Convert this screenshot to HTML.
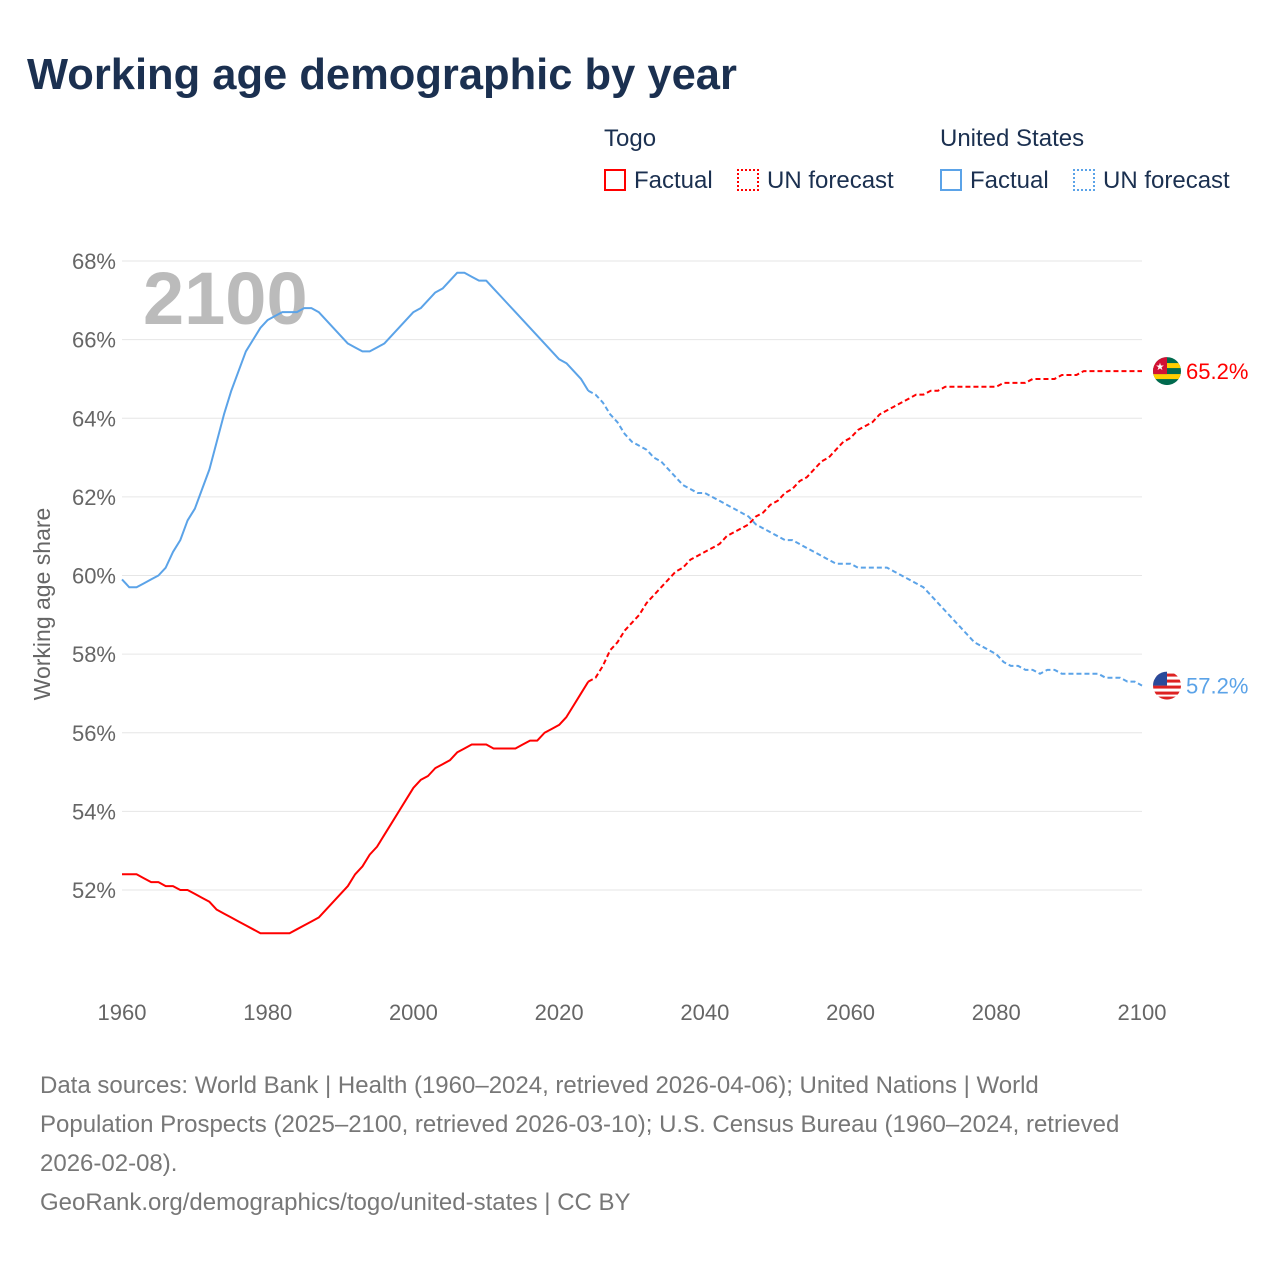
<!DOCTYPE html>
<html><head><meta charset="utf-8">
<style>
body{margin:0;background:#fff;font-family:"Liberation Sans",sans-serif;}
#wrap{position:relative;width:1280px;height:1280px;overflow:hidden;}
.t{position:absolute;white-space:nowrap;}
</style></head>
<body><div id="wrap">
<div class="t" style="left:27px;top:51px;font-size:43.5px;font-weight:bold;color:#1b3050;">Working age demographic by year</div>
<div class="t" style="left:604px;top:125px;font-size:24px;color:#1b3050;">Togo</div>
<div class="t" style="left:940px;top:125px;font-size:24px;color:#1b3050;">United States</div>
<div class="t" style="left:604px;top:167px;font-size:24px;color:#1b3050;"><span style="display:inline-block;width:22px;height:22px;border:2px solid #f00;box-sizing:border-box;vertical-align:-3px;margin-right:8px"></span>Factual</div>
<div class="t" style="left:737px;top:167px;font-size:24px;color:#1b3050;"><span style="display:inline-block;width:22px;height:22px;border:2px dotted #f00;box-sizing:border-box;vertical-align:-3px;margin-right:8px"></span>UN forecast</div>
<div class="t" style="left:940px;top:167px;font-size:24px;color:#1b3050;"><span style="display:inline-block;width:22px;height:22px;border:2px solid #5ba3e8;box-sizing:border-box;vertical-align:-3px;margin-right:8px"></span>Factual</div>
<div class="t" style="left:1073px;top:167px;font-size:24px;color:#1b3050;"><span style="display:inline-block;width:22px;height:22px;border:2px dotted #5ba3e8;box-sizing:border-box;vertical-align:-3px;margin-right:8px"></span>UN forecast</div>
<svg id="chart" width="1280" height="1060" style="position:absolute;left:0;top:0"></svg>
<div class="t" style="left:40px;top:1066px;font-size:24px;line-height:39px;color:#777;white-space:normal;width:1090px;">Data sources: World Bank | Health (1960–2024, retrieved 2026-04-06); United Nations | World Population Prospects (2025–2100, retrieved 2026-03-10); U.S. Census Bureau (1960–2024, retrieved 2026-02-08).<br>GeoRank.org/demographics/togo/united-states | CC BY</div>
</div>
<script>
const yTicks=[52,54,56,58,60,62,64,66,68];
const xTicks=[1960,1980,2000,2020,2040,2060,2080,2100];
const usFactual=[59.9,59.7,59.7,59.8,59.9,60.0,60.2,60.6,60.9,61.4,61.7,62.2,62.7,63.4,64.1,64.7,65.2,65.7,66.0,66.3,66.5,66.6,66.7,66.7,66.7,66.8,66.8,66.7,66.5,66.3,66.1,65.9,65.8,65.7,65.7,65.8,65.9,66.1,66.3,66.5,66.7,66.8,67.0,67.2,67.3,67.5,67.7,67.7,67.6,67.5,67.5,67.3,67.1,66.9,66.7,66.5,66.3,66.1,65.9,65.7,65.5,65.4,65.2,65.0,64.7];
const usForecast=[64.6,64.4,64.1,63.9,63.6,63.4,63.3,63.2,63.0,62.9,62.7,62.5,62.3,62.2,62.1,62.1,62.0,61.9,61.8,61.7,61.6,61.5,61.3,61.2,61.1,61.0,60.9,60.9,60.8,60.7,60.6,60.5,60.4,60.3,60.3,60.3,60.2,60.2,60.2,60.2,60.2,60.1,60.0,59.9,59.8,59.7,59.5,59.3,59.1,58.9,58.7,58.5,58.3,58.2,58.1,58.0,57.8,57.7,57.7,57.6,57.6,57.5,57.6,57.6,57.5,57.5,57.5,57.5,57.5,57.5,57.4,57.4,57.4,57.3,57.3,57.2];
const togoFactual=[52.4,52.4,52.4,52.3,52.2,52.2,52.1,52.1,52.0,52.0,51.9,51.8,51.7,51.5,51.4,51.3,51.2,51.1,51.0,50.9,50.9,50.9,50.9,50.9,51.0,51.1,51.2,51.3,51.5,51.7,51.9,52.1,52.4,52.6,52.9,53.1,53.4,53.7,54.0,54.3,54.6,54.8,54.9,55.1,55.2,55.3,55.5,55.6,55.7,55.7,55.7,55.6,55.6,55.6,55.6,55.7,55.8,55.8,56.0,56.1,56.2,56.4,56.7,57.0,57.3];
const togoForecast=[57.4,57.7,58.1,58.3,58.6,58.8,59.0,59.3,59.5,59.7,59.9,60.1,60.2,60.4,60.5,60.6,60.7,60.8,61.0,61.1,61.2,61.3,61.5,61.6,61.8,61.9,62.1,62.2,62.4,62.5,62.7,62.9,63.0,63.2,63.4,63.5,63.7,63.8,63.9,64.1,64.2,64.3,64.4,64.5,64.6,64.6,64.7,64.7,64.8,64.8,64.8,64.8,64.8,64.8,64.8,64.8,64.9,64.9,64.9,64.9,65.0,65.0,65.0,65.0,65.1,65.1,65.1,65.2,65.2,65.2,65.2,65.2,65.2,65.2,65.2,65.2];
const X=y=>122+(y-1960)*(1020/140);
const Y=v=>890-(v-52)*(629/16);
const svg=document.getElementById('chart');
const NS='http://www.w3.org/2000/svg';
function mk(tag,attrs){const e=document.createElementNS(NS,tag);for(const k in attrs)e.setAttribute(k,attrs[k]);svg.appendChild(e);return e;}
yTicks.forEach(v=>{
 const l=mk('line',{x1:122,x2:1142,y1:Y(v),y2:Y(v),stroke:'#e6e6e6','stroke-width':1});
 
 
 const t=mk('text',{x:116,y:Y(v)+8,'text-anchor':'end','font-size':22,fill:'#666','font-family':'Liberation Sans, sans-serif'});
 t.textContent=v+'%';
 
 
});
xTicks.forEach(v=>{
 const t=mk('text',{x:X(v),y:1020,'text-anchor':'middle','font-size':22,fill:'#666','font-family':'Liberation Sans, sans-serif'});
 t.textContent=v;
 
 
});
const yt=mk('text',{x:0,y:0,transform:'translate(50,604) rotate(-90)','text-anchor':'middle','font-size':23,fill:'#666','font-family':'Liberation Sans, sans-serif'});
yt.textContent='Working age share';


const yr=mk('text',{x:143,y:324,'font-size':74,'font-weight':'bold',fill:'#bbb','font-family':'Liberation Sans, sans-serif'});
yr.textContent='2100';


function line(arr,start,color,dash,name,prev){
 let pts=arr.map((v,i)=>X(start+i)+','+Y(v));
 if(prev!==undefined)pts.unshift(X(start-1)+','+Y(prev));
 const p=mk('polyline',{points:pts.join(' '),fill:'none',stroke:color,'stroke-width':2,'stroke-dasharray':dash||'none','stroke-linejoin':'round'});
 
 
}
line(usFactual,1960,'#5ba3e8',null,'us-factual-line');
line(usForecast,2025,'#5ba3e8','5,3','us-forecast-line',usFactual[usFactual.length-1]);
line(togoFactual,1960,'#f00',null,'togo-factual-line');
line(togoForecast,2025,'#f00','5,3','togo-forecast-line',togoFactual[togoFactual.length-1]);
function endLabel(v,color,name,flag){
 const y=Y(v);
 const g=document.createElementNS(NS,'g');svg.appendChild(g);
 
 
 g.innerHTML=flag(y);
 const t=mk('text',{x:1186,y:y+8,'font-size':22,fill:color,'font-family':'Liberation Sans, sans-serif'});
 t.textContent=v.toFixed(1)+'%';
 
 
}
endLabel(togoForecast[togoForecast.length-1],'#f00','togo',y=>`<clipPath id="c1"><circle cx="1167" cy="${y}" r="14"/></clipPath><g clip-path="url(#c1)"><rect x="1153" y="${y-14}" width="28" height="28" fill="#006a4e"/><rect x="1153" y="${y-8}" width="28" height="5" fill="#ffce00"/><rect x="1153" y="${y+3}" width="28" height="5" fill="#ffce00"/><rect x="1153" y="${y-14}" width="14" height="17" fill="#d21034"/><text x="1160" y="${y-1}" font-size="10" fill="#fff" text-anchor="middle">★</text></g>`);
endLabel(usForecast[usForecast.length-1],'#5ba3e8','us',y=>`<clipPath id="c2"><circle cx="1167" cy="${y}" r="14"/></clipPath><g clip-path="url(#c2)"><rect x="1153" y="${y-14}" width="28" height="28" fill="#fff"/><rect x="1153" y="${y-12}" width="28" height="3" fill="#d22"/><rect x="1153" y="${y-6}" width="28" height="3" fill="#d22"/><rect x="1153" y="${y}" width="28" height="3" fill="#d22"/><rect x="1153" y="${y+6}" width="28" height="3" fill="#d22"/><rect x="1153" y="${y+11}" width="28" height="3" fill="#d22"/><rect x="1153" y="${y-14}" width="14" height="14" fill="#2a4a9a"/></g>`);
</script>
</body></html>
